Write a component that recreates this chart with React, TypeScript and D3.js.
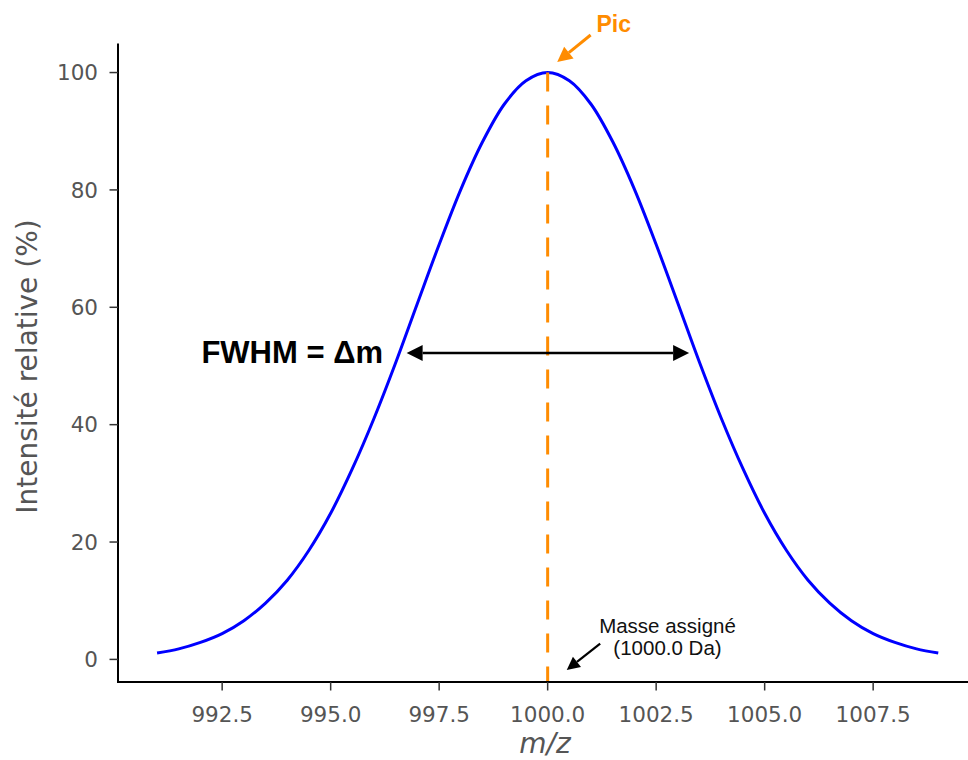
import React from "react";
import * as d3 from "d3";

// m/z positions and relative intensity
const mz = [
  991, 991.5, 992, 992.5, 993, 993.5, 994, 994.5, 995, 995.5, 996, 996.5, 997, 997.5, 998, 998.5, 999, 999.5,
  1000, 1000.5, 1001, 1001.5, 1002, 1002.5, 1003, 1003.5, 1004, 1004.5, 1005, 1005.5, 1006, 1006.5, 1007, 1007.5,
  1008, 1008.5, 1009,
];
const intensity = [
  1.1, 1.8, 2.9, 4.4, 6.6, 9.6, 13.5, 18.6, 24.9, 32.5, 41.1, 50.6, 60.7, 70.7, 80.1, 88.2, 94.6, 98.6,
  100, 98.6, 94.6, 88.2, 80.1, 70.7, 60.7, 50.6, 41.1, 32.5, 24.9, 18.6, 13.5, 9.6, 6.6, 4.4,
  2.9, 1.8, 1.1,
];
const xTicks = [992.5, 995.0, 997.5, 1000.0, 1002.5, 1005.0, 1007.5];
const yTicks = [0, 20, 40, 60, 80, 100];
const peakMz = [1000];
const fwhmLeft = [996.75];
const fwhmRight = [1003.26];
const fwhmLevel = [52.2];
const picArrow = [1000.99, 106.4, 1000.22, 101.8]; // tail x,y -> tip x,y
const massArrow = [1001.21, 2.7, 1000.44, -1.8];

const W = 968;
const H = 760;

function arrowHead(tx: number, ty: number, fx: number, fy: number, len: number, half: number) {
  const dx = tx - fx;
  const dy = ty - fy;
  const L = Math.hypot(dx, dy);
  const ux = dx / L;
  const uy = dy / L;
  const bx = tx - ux * len;
  const by = ty - uy * len;
  const px = -uy;
  const py = ux;
  return {
    d: `M${tx},${ty}L${bx + px * half},${by + py * half}L${bx - px * half},${by - py * half}Z`,
    bx,
    by,
  };
}

export default function App() {
  const x = d3.scaleLinear().domain([990.1, 1009.9]).range([118, 118 + 19.8 * 43.4]);
  const y = d3.scaleLinear().domain([-3.85, 104.95]).range([682, 43.5]);
  const pts: [number, number][] = mz.map((m, i) => [m, intensity[i]]);
  const line = d3
    .line<[number, number]>()
    .x((d) => x(d[0]))
    .y((d) => y(d[1]))
    .curve(d3.curveCatmullRom.alpha(0.5));

  const fy = y(fwhmLevel[0]);
  const fl = x(fwhmLeft[0]);
  const fr = x(fwhmRight[0]);
  const hL = arrowHead(fl, fy, fr, fy, 16, 8);
  const hR = arrowHead(fr, fy, fl, fy, 16, 8);

  const pTail = [x(picArrow[0]), y(picArrow[1])];
  const pTip = [x(picArrow[2]), y(picArrow[3])];
  const pH = arrowHead(pTip[0], pTip[1], pTail[0], pTail[1], 15, 7.5);

  const mTail = [x(massArrow[0]), y(massArrow[1])];
  const mTip = [x(massArrow[2]), y(massArrow[3])];
  const mH = arrowHead(mTip[0], mTip[1], mTail[0], mTail[1], 13, 6.5);

  const tickFont = "'DejaVu Sans', sans-serif";
  const annFont = "'Liberation Sans', Arial, sans-serif";

  return (
    <svg
      width={W}
      height={H}
      style={{ position: "absolute", left: 0, top: 0, background: "#fff" }}
    >
      <rect width={W} height={H} fill="#fff" />
      {/* curve */}
      <path d={line(pts) || ""} fill="none" stroke="#0000ff" strokeWidth={3} />
      {/* peak dashed line */}
      <line
        x1={x(peakMz[0])}
        x2={x(peakMz[0])}
        y1={y(100)}
        y2={682}
        stroke="#ff8c00"
        strokeWidth={3}
        strokeDasharray="19,14"
      />
      {/* FWHM double arrow */}
      <line x1={hL.bx} x2={hR.bx} y1={fy} y2={fy} stroke="#000" strokeWidth={2.5} />
      <path d={hL.d} fill="#000" />
      <path d={hR.d} fill="#000" />
      <text x={383} y={363} textAnchor="end" fontFamily={annFont} fontWeight="bold" fontSize={31} fill="#000">
        FWHM = Δm
      </text>
      {/* Pic annotation */}
      <line x1={pTail[0]} y1={pTail[1]} x2={pH.bx} y2={pH.by} stroke="#ff8c00" strokeWidth={3} />
      <path d={pH.d} fill="#ff8c00" />
      <text x={596.5} y={32} fontFamily={annFont} fontWeight="bold" fontSize={23} fill="#ff8c00">
        Pic
      </text>
      {/* Mass annotation */}
      <line x1={mTail[0]} y1={mTail[1]} x2={mH.bx} y2={mH.by} stroke="#000" strokeWidth={2.2} />
      <path d={mH.d} fill="#000" />
      <text textAnchor="middle" fontFamily={annFont} fontSize={20.5} fill="#111">
        <tspan x={667.5} y={632.5}>Masse assigné</tspan>
        <tspan x={667.5} y={655}>(1000.0 Da)</tspan>
      </text>
      {/* axes */}
      <line x1={118} x2={W} y1={682} y2={682} stroke="#000" strokeWidth={2} />
      <line x1={118} x2={118} y1={43.5} y2={683} stroke="#000" strokeWidth={2} />
      {xTicks.map((t) => (
        <g key={"x" + t}>
          <line x1={x(t)} x2={x(t)} y1={682} y2={690.5} stroke="#333" strokeWidth={1.5} />
          <text x={x(t)} y={722} textAnchor="middle" fontFamily={tickFont} fontSize={21.5} fill="#555">
            {t.toFixed(1)}
          </text>
        </g>
      ))}
      {yTicks.map((t) => (
        <g key={"y" + t}>
          <line x1={109.5} x2={118} y1={y(t)} y2={y(t)} stroke="#333" strokeWidth={1.5} />
          <text
            x={98}
            y={y(t)}
            dy="0.36em"
            textAnchor="end"
            fontFamily={tickFont}
            fontSize={21.5}
            fill="#555"
          >
            {t}
          </text>
        </g>
      ))}
      <text x={545} y={753} textAnchor="middle" fontFamily={tickFont} fontStyle="italic" fontSize={28} fill="#555">
        m/z
      </text>
      <text
        transform="translate(37,366.5) rotate(-90)"
        textAnchor="middle"
        fontFamily={tickFont}
        fontSize={28}
        fill="#555"
      >
        Intensité relative (%)
      </text>
    </svg>
  );
}
